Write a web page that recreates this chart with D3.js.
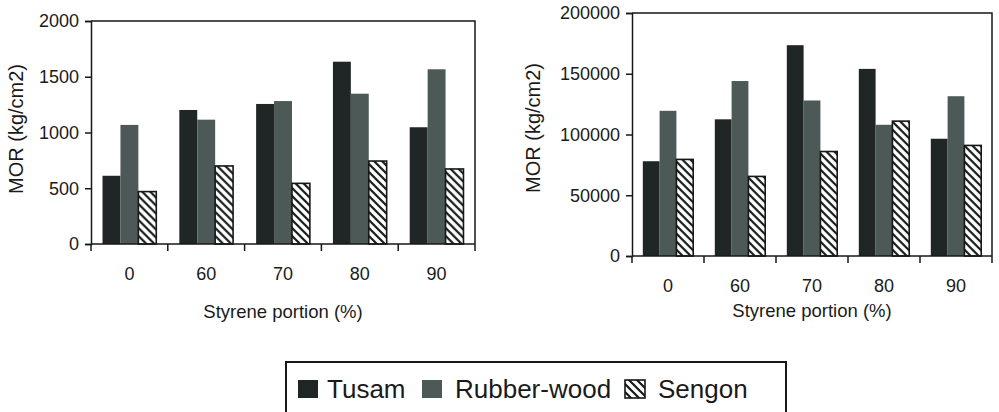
<!DOCTYPE html>
<html>
<head>
<meta charset="utf-8">
<script src="https://cdn.jsdelivr.net/npm/d3@7/dist/d3.min.js"></script>
<style>
  body { margin: 0; background: #fff; }
  svg text { font-family: "Liberation Sans", Arial, sans-serif; fill: #1a1a1a; }
</style>
</head>
<body>
<svg id="chart" width="999" height="412"></svg>
<script>

// categories and series
var categories = ['0', '60', '70', '80', '90'];
var seriesNames = ['Tusam', 'Rubber-wood', 'Sengon'];

// left panel, MOR (kg/cm2)
var tusamLeft = [612, 1202, 1256, 1635, 1047];
var rubberLeft = [1068, 1115, 1282, 1348, 1567];
var sengonLeft = [470, 700, 544, 744, 673];
var yTicksLeft = [0, 500, 1000, 1500, 2000];

// right panel, MOR (kg/cm2)
var tusamRight = [78000, 112500, 173500, 154000, 96500];
var rubberRight = [119500, 144000, 128000, 108000, 131500];
var sengonRight = [79500, 65500, 86000, 111000, 91000];
var yTicksRight = [0, 50000, 100000, 150000, 200000];

var svg = d3.select('#chart');
var ink = '#161818';
var fills = ['#1f2625', '#4d5957', 'url(#hatch)'];

// hatch for Sengon
var pat = svg.append('defs').append('pattern')
    .attr('id', 'hatch')
    .attr('patternUnits', 'userSpaceOnUse')
    .attr('width', 8).attr('height', 8);
pat.append('rect').attr('width', 8).attr('height', 8).attr('fill', '#fff');
pat.append('path')
    .attr('d', 'M-1,-1L9,9M-1,7L1,9M7,-1L9,1')
    .attr('stroke', ink)
    .attr('stroke-width', 2.2);

function panel(opts) {
    var g = svg.append('g');

    var x = d3.scaleBand()
        .domain(categories)
        .range([opts.left, opts.right])
        .paddingInner(0.3)
        .paddingOuter(0.15);

    var xs = d3.scaleBand()
        .domain(seriesNames)
        .range([0, x.bandwidth()]);

    var y = d3.scaleLinear()
        .domain([0, opts.max])
        .range([opts.bottom, opts.top]);

    var rows = categories.map(function(c, i){
        return seriesNames.map(function(s, j){
            return {cat: c, name: s, value: opts.series[j][i], k: j};
        });
    });

    // bars
    g.selectAll('.grp')
        .data(rows).enter()
        .append('g').attr('class', 'grp')
        .attr('transform', function(d){ return 'translate(' + x(d[0].cat) + ',0)'; })
        .selectAll('rect')
        .data(function(d){ return d; }).enter()
        .append('rect')
        .attr('x', function(d){ return xs(d.name); })
        .attr('y', function(d){ return y(d.value); })
        .attr('width', xs.bandwidth())
        .attr('height', function(d){ return opts.bottom - y(d.value); })
        .attr('fill', function(d){ return fills[d.k]; })
        .attr('stroke', function(d){ return d.k == 2 ? ink : 'none'; })
        .attr('stroke-width', 1.6);

    // frame (top and right)
    g.append('path')
        .attr('d', 'M' + opts.left + ',' + opts.top + 'H' + opts.right + 'V' + opts.bottom)
        .attr('fill', 'none')
        .attr('stroke', ink)
        .attr('stroke-width', 1.5);

    // y axis
    var yAxis = g.append('g')
        .attr('transform', 'translate(' + opts.left + ',0)')
        .call(d3.axisLeft(y).tickValues(opts.yTicks).tickSize(6).tickPadding(6).tickFormat(d3.format('d')));
    yAxis.select('.domain').attr('stroke', ink).attr('stroke-width', 1.5);
    yAxis.selectAll('.tick line').attr('stroke', ink).attr('stroke-width', 1.5);
    yAxis.selectAll('text').style('font-size', '18px').attr('fill', ink);

    // x axis: labels centred, ticks between categories
    var xAxis = g.append('g')
        .attr('transform', 'translate(0,' + opts.bottom + ')');
    xAxis.append('line')
        .attr('x1', opts.left).attr('x2', opts.right)
        .attr('stroke', ink).attr('stroke-width', 1.5);
    var bounds = categories.map(function(c){ return x(c) - x.step() * 0.15; }).concat([opts.right]);
    xAxis.selectAll('.xt')
        .data(bounds).enter()
        .append('line').attr('class', 'xt')
        .attr('x1', function(d){ return d; }).attr('x2', function(d){ return d; })
        .attr('y1', 0).attr('y2', 7)
        .attr('stroke', ink).attr('stroke-width', 1.5);
    xAxis.selectAll('.xl')
        .data(categories).enter()
        .append('text').attr('class', 'xl')
        .attr('x', function(d){ return x(d) + x.bandwidth() / 2; })
        .attr('y', 36)
        .attr('text-anchor', 'middle')
        .style('font-size', '18px')
        .text(function(d){ return d; });

    // titles
    g.append('text')
        .attr('x', (opts.left + opts.right) / 2)
        .attr('y', opts.xTitleY)
        .attr('text-anchor', 'middle')
        .style('font-size', '18.5px')
        .text('Styrene portion (%)');

    g.append('text')
        .attr('transform', 'translate(' + opts.yTitleX + ',' + opts.yTitleMid + ') rotate(-90)')
        .attr('text-anchor', 'middle')
        .style('font-size', '20px')
        .text('MOR (kg/cm2)');
}

panel({
    left: 91, right: 475, top: 21, bottom: 244,
    max: 2000, yTicks: yTicksLeft,
    series: [tusamLeft, rubberLeft, sengonLeft],
    xTitleY: 318, yTitleX: 23, yTitleMid: 129
});

panel({
    left: 632, right: 992, top: 13, bottom: 256,
    max: 200000, yTicks: yTicksRight,
    series: [tusamRight, rubberRight, sengonRight],
    xTitleY: 317, yTitleX: 540, yTitleMid: 128
});

// legend
var legend = svg.append('g');
legend.append('rect')
    .attr('x', 286).attr('y', 362)
    .attr('width', 500).attr('height', 70)
    .attr('fill', '#fff')
    .attr('stroke', ink).attr('stroke-width', 2);

var legendX = [298, 422, 625];
var items = legend.selectAll('.li')
    .data(seriesNames).enter()
    .append('g').attr('class', 'li')
    .attr('transform', function(d, i){ return 'translate(' + legendX[i] + ',0)'; });
items.append('rect')
    .attr('x', 0).attr('y', 380)
    .attr('width', 20).attr('height', 18)
    .attr('fill', function(d, i){ return fills[i]; })
    .attr('stroke', function(d, i){ return i == 2 ? ink : 'none'; })
    .attr('stroke-width', 1.6);
items.append('text')
    .attr('x', function(d, i){ return i == 0 ? 29 : 33; })
    .attr('y', 398)
    .style('font-size', '26px')
    .text(function(d){ return d; });

</script>
</body>
</html>
